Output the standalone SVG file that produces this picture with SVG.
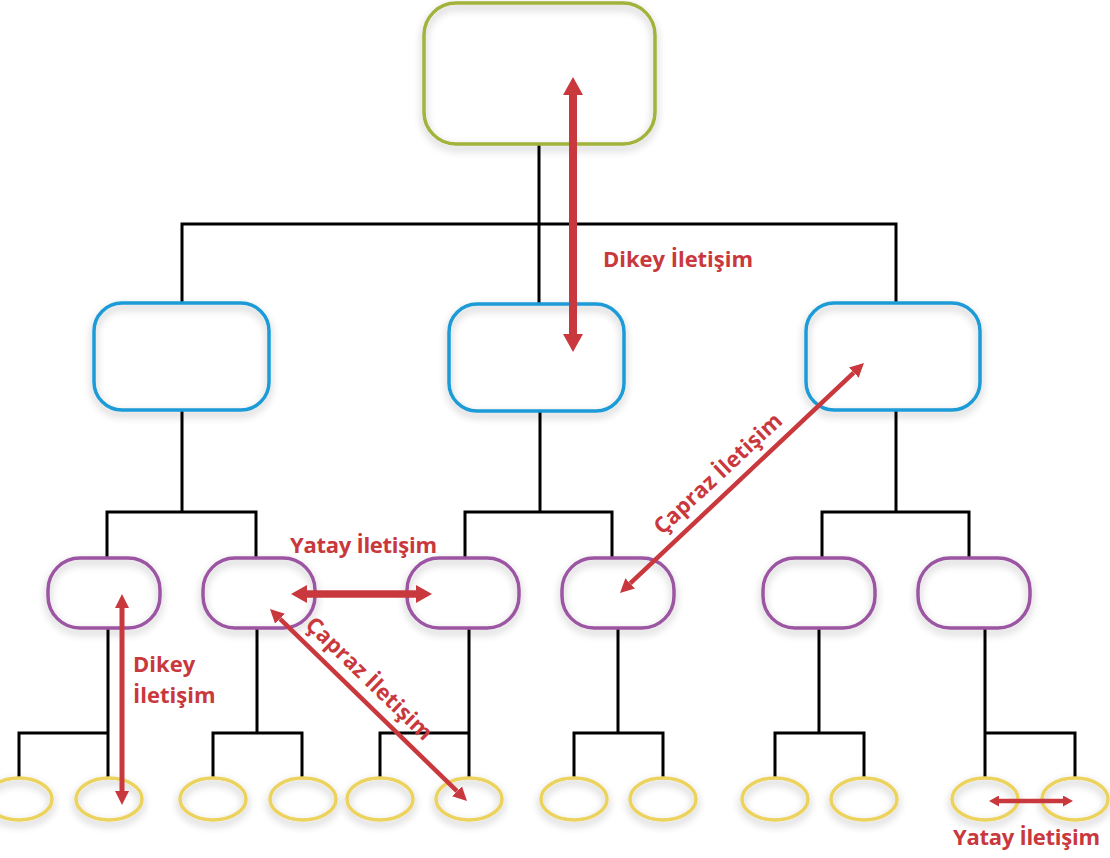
<svg xmlns="http://www.w3.org/2000/svg" width="1110" height="858" viewBox="0 0 1110 858">
  <defs>
    <filter id="soft" x="-20%" y="-25%" width="140%" height="160%">
      <feGaussianBlur in="SourceAlpha" stdDeviation="4"/>
      <feOffset dy="4"/>
      <feComponentTransfer><feFuncA type="linear" slope="0.28"/></feComponentTransfer>
      <feMerge><feMergeNode/><feMergeNode in="SourceGraphic"/></feMerge>
    </filter>
    <marker id="head-xl" markerUnits="userSpaceOnUse" markerWidth="18" markerHeight="20" refX="0" refY="10" orient="auto-start-reverse">
      <path d="M0,0 L18,10 L0,20 z" fill="#c9383c"/>
    </marker>
    <marker id="head-lg" markerUnits="userSpaceOnUse" markerWidth="16" markerHeight="18" refX="0" refY="9" orient="auto-start-reverse">
      <path d="M0,0 L16,9 L0,18 z" fill="#c9383c"/>
    </marker>
    <marker id="head-sm" markerUnits="userSpaceOnUse" markerWidth="14" markerHeight="14" refX="0" refY="7" orient="auto-start-reverse">
      <path d="M0,0 L14,7 L0,14 z" fill="#c9383c"/>
    </marker>
    <marker id="head-xs" markerUnits="userSpaceOnUse" markerWidth="10" markerHeight="11" refX="0" refY="5.5" orient="auto-start-reverse">
      <path d="M0,0 L10,5.5 L0,11 z" fill="#c9383c"/>
    </marker>
  </defs>
  <style>
    .wire { fill: none; stroke: #000; stroke-width: 3; }
    .fill { fill: #fff; stroke: none; }
    .edge { fill: none; filter: url(#soft); }
    .top { stroke: #a2b23b; stroke-width: 3.5; }
    .mid { stroke: #1e9bd7; stroke-width: 3.5; }
    .unit { stroke: #9b55a3; stroke-width: 3.5; }
    .leaf { stroke: #ecd35e; stroke-width: 3.5; }
    .flow { fill: none; stroke: #c9383c; }
    .label { font-family: "Open Sans", "Liberation Sans", sans-serif; font-weight: bold; font-size: 22px; fill: #c9383c; }
  </style>

  <rect width="1110" height="858" fill="#fff"/>

  <!-- tree connectors -->
  <g id="connectors">
    <path class="wire" d="M539,144 V303 M182,303 V224 H896 V303"/>
    <path class="wire" d="M182,410 V512 M107,558 V512 H256 V558"/>
    <path class="wire" d="M540,411 V512 M465,558 V512 H612 V558"/>
    <path class="wire" d="M896,410 V512 M822,558 V512 H969 V558"/>
    <path class="wire" d="M108,628 V778 M19,778 V733 H108"/>
    <path class="wire" d="M257,628 V733 M213,778 V733 H302 V778"/>
    <path class="wire" d="M469,628 V778 M380,778 V733 H469"/>
    <path class="wire" d="M618,628 V733 M574,778 V733 H663 V778"/>
    <path class="wire" d="M819,628 V733 M775,778 V733 H864 V778"/>
    <path class="wire" d="M985,628 V778 M985,733 H1075 V778"/>
  </g>

  <!-- top level -->
  <g id="node-top">
    <rect class="fill" x="424" y="3" width="231" height="141" rx="32"/>
    <rect class="edge top" x="424" y="3" width="231" height="141" rx="32"/>
  </g>

  <!-- second level -->
  <g id="node-mid-1">
    <rect class="fill" x="94" y="303" width="175" height="107" rx="28"/>
    <rect class="edge mid" x="94" y="303" width="175" height="107" rx="28"/>
  </g>
  <g id="node-mid-2">
    <rect class="fill" x="449" y="304" width="175" height="107" rx="28"/>
    <rect class="edge mid" x="449" y="304" width="175" height="107" rx="28"/>
  </g>
  <g id="node-mid-3">
    <rect class="fill" x="806" y="303" width="174" height="107" rx="28"/>
    <rect class="edge mid" x="806" y="303" width="174" height="107" rx="28"/>
  </g>

  <!-- third level -->
  <g id="node-unit-1">
    <rect class="fill" x="48" y="558" width="112" height="70" rx="32"/>
    <rect class="edge unit" x="48" y="558" width="112" height="70" rx="32"/>
  </g>
  <g id="node-unit-2">
    <rect class="fill" x="203" y="558" width="112" height="70" rx="32"/>
    <rect class="edge unit" x="203" y="558" width="112" height="70" rx="32"/>
  </g>
  <g id="node-unit-3">
    <rect class="fill" x="407" y="558" width="112" height="70" rx="32"/>
    <rect class="edge unit" x="407" y="558" width="112" height="70" rx="32"/>
  </g>
  <g id="node-unit-4">
    <rect class="fill" x="562" y="558" width="112" height="70" rx="32"/>
    <rect class="edge unit" x="562" y="558" width="112" height="70" rx="32"/>
  </g>
  <g id="node-unit-5">
    <rect class="fill" x="763" y="558" width="112" height="70" rx="32"/>
    <rect class="edge unit" x="763" y="558" width="112" height="70" rx="32"/>
  </g>
  <g id="node-unit-6">
    <rect class="fill" x="918" y="558" width="112" height="70" rx="32"/>
    <rect class="edge unit" x="918" y="558" width="112" height="70" rx="32"/>
  </g>

  <!-- bottom level -->
  <g id="node-leaf-1"><ellipse class="fill" cx="19" cy="799" rx="33" ry="21"/><ellipse class="edge leaf" cx="19" cy="799" rx="33" ry="21"/></g>
  <g id="node-leaf-2"><ellipse class="fill" cx="109" cy="799" rx="33" ry="21"/><ellipse class="edge leaf" cx="109" cy="799" rx="33" ry="21"/></g>
  <g id="node-leaf-3"><ellipse class="fill" cx="213" cy="799" rx="33" ry="21"/><ellipse class="edge leaf" cx="213" cy="799" rx="33" ry="21"/></g>
  <g id="node-leaf-4"><ellipse class="fill" cx="303" cy="799" rx="33" ry="21"/><ellipse class="edge leaf" cx="303" cy="799" rx="33" ry="21"/></g>
  <g id="node-leaf-5"><ellipse class="fill" cx="380" cy="799" rx="33" ry="21"/><ellipse class="edge leaf" cx="380" cy="799" rx="33" ry="21"/></g>
  <g id="node-leaf-6"><ellipse class="fill" cx="469" cy="799" rx="33" ry="21"/><ellipse class="edge leaf" cx="469" cy="799" rx="33" ry="21"/></g>
  <g id="node-leaf-7"><ellipse class="fill" cx="574" cy="799" rx="33" ry="21"/><ellipse class="edge leaf" cx="574" cy="799" rx="33" ry="21"/></g>
  <g id="node-leaf-8"><ellipse class="fill" cx="663" cy="799" rx="33" ry="21"/><ellipse class="edge leaf" cx="663" cy="799" rx="33" ry="21"/></g>
  <g id="node-leaf-9"><ellipse class="fill" cx="775" cy="799" rx="33" ry="21"/><ellipse class="edge leaf" cx="775" cy="799" rx="33" ry="21"/></g>
  <g id="node-leaf-10"><ellipse class="fill" cx="864" cy="799" rx="33" ry="21"/><ellipse class="edge leaf" cx="864" cy="799" rx="33" ry="21"/></g>
  <g id="node-leaf-11"><ellipse class="fill" cx="985" cy="799" rx="33" ry="21"/><ellipse class="edge leaf" cx="985" cy="799" rx="33" ry="21"/></g>
  <g id="node-leaf-12"><ellipse class="fill" cx="1075" cy="799" rx="33" ry="21"/><ellipse class="edge leaf" cx="1075" cy="799" rx="33" ry="21"/></g>

  <!-- communication arrows -->
  <g id="communication">
    <line class="flow" x1="573" y1="95" x2="573" y2="334" stroke-width="8" marker-start="url(#head-xl)" marker-end="url(#head-xl)"/>
    <line class="flow" x1="122" y1="608" x2="122" y2="791" stroke-width="5" marker-start="url(#head-sm)" marker-end="url(#head-sm)"/>
    <line class="flow" x1="307" y1="594" x2="416" y2="594" stroke-width="7.5" marker-start="url(#head-lg)" marker-end="url(#head-lg)"/>
    <line class="flow" x1="280" y1="618.8" x2="457" y2="791.2" stroke-width="4.5" marker-start="url(#head-sm)" marker-end="url(#head-sm)"/>
    <line class="flow" x1="630.2" y1="583.4" x2="853.8" y2="372.6" stroke-width="4.5" marker-start="url(#head-sm)" marker-end="url(#head-sm)"/>
    <line class="flow" x1="999" y1="801" x2="1063" y2="801" stroke-width="4.5" marker-start="url(#head-xs)" marker-end="url(#head-xs)"/>
  </g>

  <!-- labels -->
  <g id="labels">
    <text class="label" x="603" y="267" textLength="150" lengthAdjust="spacing">Dikey İletişim</text>
    <text class="label" x="290" y="553" textLength="147" lengthAdjust="spacing">Yatay İletişim</text>
    <text class="label" x="133" y="672">Dikey</text>
    <text class="label" x="133" y="703">İletişim</text>
    <text class="label" x="953" y="845" textLength="147" lengthAdjust="spacing">Yatay İletişim</text>
    <text class="label" text-anchor="middle" transform="translate(723 479) rotate(-43)" textLength="166" lengthAdjust="spacing">Çapraz İletişim</text>
    <text class="label" text-anchor="middle" transform="translate(364 684) rotate(44)" textLength="166" lengthAdjust="spacing">Çapraz İletişim</text>
  </g>
</svg>
